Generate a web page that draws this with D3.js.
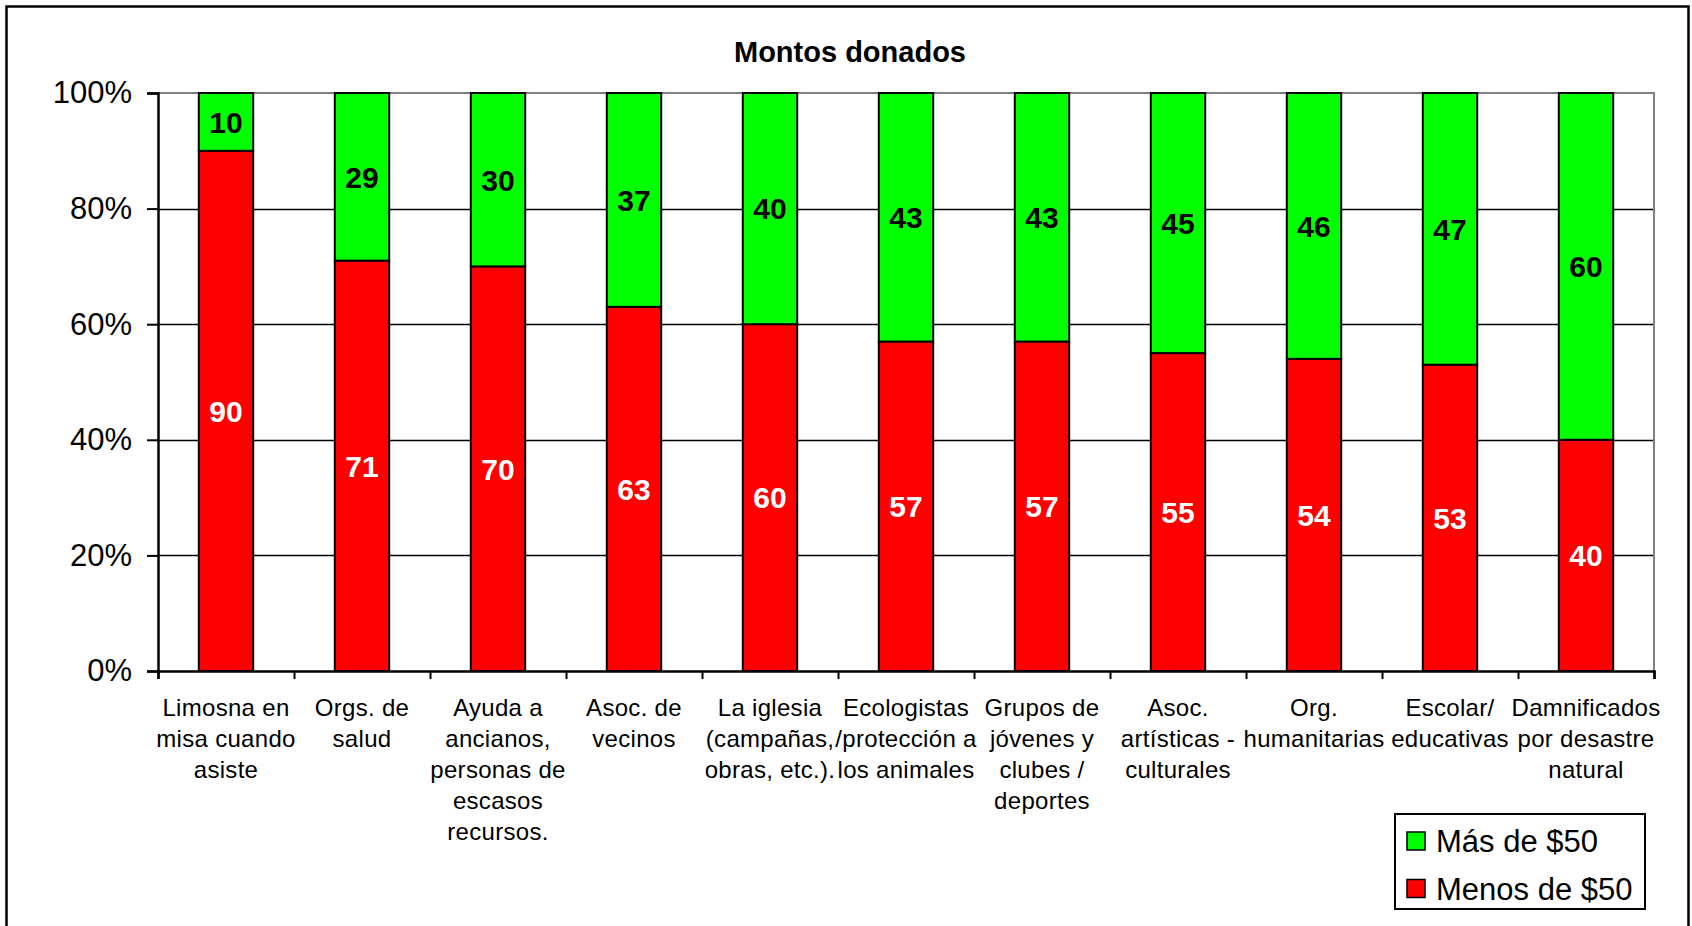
<!DOCTYPE html>
<html>
<head>
<meta charset="utf-8">
<script src="https://cdn.jsdelivr.net/npm/d3@7"></script>
<style>
  body { margin: 0; background: #fff; }
  svg { display: block; font-family: "Liberation Sans", Arial, sans-serif; }
</style>
</head>
<body>
<div id="chart"></div>
<script>
// categories, split in lines the way the original wraps them
const categories = [
  ["Limosna en", "misa cuando", "asiste"],
  ["Orgs. de", "salud"],
  ["Ayuda a", "ancianos,", "personas de", "escasos", "recursos."],
  ["Asoc. de", "vecinos"],
  ["La iglesia", "(campañas,", "obras, etc.)."],
  ["Ecologistas", "/protección a", "los animales"],
  ["Grupos de", "jóvenes y", "clubes /", "deportes"],
  ["Asoc.", "artísticas -", "culturales"],
  ["Org.", "humanitarias"],
  ["Escolar/", "educativas"],
  ["Damnificados", "por desastre", "natural"]
];
const menos = [90, 71, 70, 63, 60, 57, 57, 55, 54, 53, 40];
const mas = [10, 29, 30, 37, 40, 43, 43, 45, 46, 47, 60];
const seriesNames = ["Menos de $50", "Más de $50"];
const yTicks = [0, 0.2, 0.4, 0.6, 0.8, 1];

const colors = { "Menos de $50": "#ff0000", "Más de $50": "#00ff00" };
const labelColors = { "Menos de $50": "#fff", "Más de $50": "#000" };

const W = 1692, H = 926;
const plot = { left: 158, right: 1654, top: 93, bottom: 671 };

const svg = d3.select("#chart").append("svg")
  .attr("width", W).attr("height", H);

// outer frame
svg.append("rect")
  .attr("x", 6.5).attr("y", 6.5)
  .attr("width", 1682).attr("height", 940)
  .attr("fill", "#fff").attr("stroke", "#000").attr("stroke-width", 2.5);

svg.append("text")
  .attr("x", 850).attr("y", 62)
  .attr("text-anchor", "middle")
  .attr("font-size", 29).attr("font-weight", "bold")
  .text("Montos donados");

const x = d3.scaleBand()
  .domain(d3.range(categories.length))
  .range([plot.left, plot.right])
  .paddingInner(0.6).paddingOuter(0.3);

const y = d3.scaleLinear().domain([0, 1]).range([plot.bottom, plot.top]);

// gridlines
svg.append("g").selectAll("line")
  .data(yTicks.filter(d => d > 0 && d < 1))
  .join("line")
  .attr("x1", plot.left).attr("x2", plot.right)
  .attr("y1", d => Math.round(y(d)) + 0.5).attr("y2", d => Math.round(y(d)) + 0.5)
  .attr("stroke", "#000").attr("stroke-width", 1.3);

// plot area border (top/right in gray)
svg.append("path")
  .attr("d", `M${plot.left},${plot.top}H${plot.right}V${plot.bottom}`)
  .attr("fill", "none").attr("stroke", "#808080").attr("stroke-width", 2);

// stacked data
const rows = menos.map((m, i) => ({ i, "Menos de $50": m / 100, "Más de $50": mas[i] / 100 }));
const stack = d3.stack().keys(seriesNames)(rows);

const layers = svg.append("g").selectAll("g")
  .data(stack)
  .join("g");

layers.selectAll("rect")
  .data(d => d.map(p => ({ key: d.key, p })))
  .join("rect")
  .attr("x", d => x(d.p.data.i))
  .attr("width", x.bandwidth())
  .attr("y", d => y(d.p[1]))
  .attr("height", d => y(d.p[0]) - y(d.p[1]))
  .attr("fill", d => colors[d.key])
  .attr("stroke", "#000").attr("stroke-width", 2);

layers.selectAll("text")
  .data(d => d.map(p => ({ key: d.key, p })))
  .join("text")
  .attr("x", d => x(d.p.data.i) + x.bandwidth() / 2)
  .attr("y", d => (y(d.p[0]) + y(d.p[1])) / 2)
  .attr("dy", "0.36em")
  .attr("text-anchor", "middle")
  .attr("font-size", 30).attr("font-weight", "bold")
  .attr("fill", d => labelColors[d.key])
  .text(d => Math.round(d.p.data[d.key] * 100));

// y axis
const yAxis = svg.append("g")
  .attr("transform", `translate(${plot.left},0)`)
  .call(d3.axisLeft(y).tickValues(yTicks).tickFormat(d3.format(".0%")).tickSize(11).tickPadding(15));
yAxis.select(".domain").attr("stroke-width", 2.5);
yAxis.selectAll(".tick line").attr("stroke-width", 2);
yAxis.selectAll("text").attr("font-size", 31).attr("fill", "#000")
  .attr("font-family", "Liberation Sans, Arial, sans-serif");

// x axis with ticks on category boundaries
const xb = d3.scaleLinear().domain([0, categories.length]).range([plot.left, plot.right]);
const xAxis = svg.append("g")
  .attr("transform", `translate(0,${plot.bottom})`)
  .call(d3.axisBottom(xb).ticks(categories.length).tickFormat("").tickSizeOuter(0).tickSize(8));
xAxis.select(".domain").attr("stroke-width", 2.5);
xAxis.selectAll(".tick line").attr("stroke-width", 2);

// category labels
const catG = svg.append("g").selectAll("text")
  .data(categories)
  .join("text")
  .attr("text-anchor", "middle")
  .attr("font-size", 24)
  .attr("letter-spacing", 0.3)
  .attr("fill", "#000");
catG.selectAll("tspan")
  .data((d, i) => d.map(line => ({ line, i })))
  .join("tspan")
  .attr("x", d => x(d.i) + x.bandwidth() / 2)
  .attr("y", (d, j) => 716 + j * 31)
  .text(d => d.line);

// legend
const legend = svg.append("g");
legend.append("rect")
  .attr("x", 1395).attr("y", 814).attr("width", 250).attr("height", 95)
  .attr("fill", "#fff").attr("stroke", "#000").attr("stroke-width", 2);
const legendItems = ["Más de $50", "Menos de $50"];
const li = legend.selectAll("g.item")
  .data(legendItems)
  .join("g")
  .attr("transform", (d, i) => `translate(0,${i * 47.5})`);
li.append("rect")
  .attr("x", 1407).attr("y", 832).attr("width", 18).attr("height", 18)
  .attr("fill", d => colors[d]).attr("stroke", "#000").attr("stroke-width", 1.5);
li.append("text")
  .attr("x", 1436).attr("y", 852)
  .attr("font-size", 31)
  .text(d => d);
</script>
</body>
</html>
